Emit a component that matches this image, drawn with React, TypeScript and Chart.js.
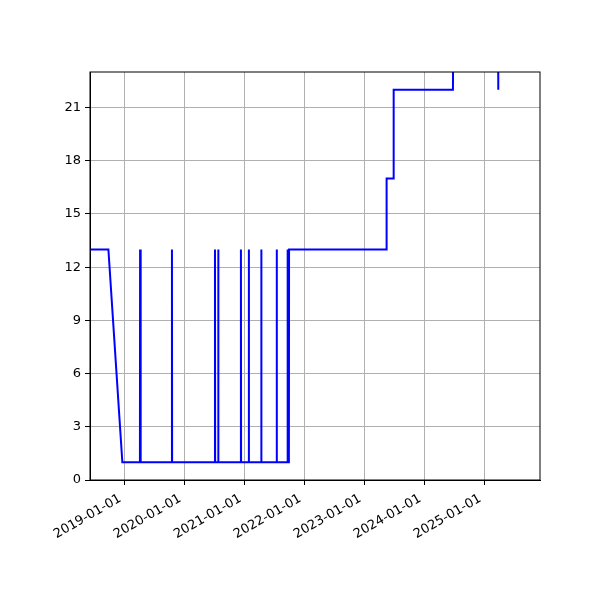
import { Chart, registerables, type ChartConfiguration, type Plugin } from 'chart.js';
import { useEffect, useRef } from 'react';

Chart.register(...registerables);

// sample dates and values
const DATES = [
  '2018-06-01', '2018-09-26', '2018-12-20',
  '2019-04-06', '2019-04-07', '2019-04-10', '2019-04-11',
  '2019-10-17', '2019-10-18', '2019-10-19',
  '2020-07-05', '2020-07-06', '2020-07-07',
  '2020-07-25', '2020-07-26', '2020-07-27',
  '2020-12-10', '2020-12-11', '2020-12-12',
  '2021-01-27', '2021-01-28', '2021-01-29',
  '2021-04-13', '2021-04-14', '2021-04-15',
  '2021-07-16', '2021-07-17', '2021-07-18',
  '2021-09-19', '2021-09-20', '2021-09-22', '2021-09-23',
  '2021-09-29', '2021-09-30',
  '2023-05-16', '2023-05-17',
  '2023-06-28', '2023-06-29',
  '2024-06-24', '2024-06-25',
  '2025-03-26', '2025-03-27',
];
const VALUES = [
  13, 13, 1,
  1, 13, 13, 1,
  1, 13, 1,
  1, 13, 1,
  1, 13, 1,
  1, 13, 1,
  1, 13, 1,
  1, 13, 1,
  1, 13, 1,
  1, 13, 13, 1,
  1, 13,
  13, 17,
  17, 22,
  22, 25,
  25, 22,
];

const X_TICKS = ['2019-01-01', '2020-01-01', '2021-01-01', '2022-01-01', '2023-01-01', '2024-01-01', '2025-01-01'];
const Y_TICKS = [0, 3, 6, 9, 12, 15, 18, 21];
const X_MIN = '2018-06-06';
const X_MAX = '2025-12-06';
const Y_MAX = 23;

const font = { family: 'DejaVu Sans', size: 13 };

// matplotlib-like box around the plot area
const frame: Plugin = {
  id: 'frame',
  afterDraw(chart) {
    const { ctx, chartArea: a } = chart;
    ctx.save();
    ctx.strokeStyle = 'black';
    ctx.lineWidth = 1;
    ctx.strokeRect(a.left, a.top, a.right - a.left, a.bottom - a.top);
    ctx.restore();
  },
};

export default function App() {
  const canvasRef = useRef<HTMLCanvasElement>(null);

  useEffect(() => {
    document.body.style.margin = '0';
    if (!canvasRef.current) return;

    const config: ChartConfiguration<'line'> = {
      type: 'line',
      data: {
        datasets: [
          {
            data: DATES.map((d, i) => ({ x: Date.parse(d), y: VALUES[i] })),
            borderColor: '#0000ff',
            borderWidth: 2,
            pointRadius: 0,
            tension: 0,
            fill: false,
          },
        ],
      },
      options: {
        animation: false,
        responsive: false,
        layout: { padding: { left: 0, right: 60, top: 72, bottom: 0 } },
        plugins: { legend: { display: false }, tooltip: { enabled: false } },
        scales: {
          x: {
            type: 'linear',
            min: Date.parse(X_MIN),
            max: Date.parse(X_MAX),
            afterBuildTicks: (scale) => {
              scale.ticks = X_TICKS.map((t) => ({ value: Date.parse(t) }));
            },
            afterFit: (scale) => {
              scale.height = 120;
            },
            ticks: {
              autoSkip: false,
              minRotation: 30,
              maxRotation: 30,
              color: 'black',
              font,
              padding: 6,
              labelOffset: -4,
              callback: (v) => new Date(Number(v)).toISOString().slice(0, 10),
            },
            grid: { color: '#b0b0b0', tickColor: 'black', tickLength: 5 },
            border: { color: 'black', width: 1 },
          },
          y: {
            min: 0,
            max: Y_MAX,
            afterBuildTicks: (scale) => {
              scale.ticks = Y_TICKS.map((v) => ({ value: v }));
            },
            afterFit: (scale) => {
              scale.width = 90;
            },
            ticks: { color: 'black', font, padding: 4 },
            grid: { color: '#b0b0b0', tickColor: 'black', tickLength: 5 },
            border: { color: 'black', width: 1 },
          },
        },
      },
      plugins: [frame],
    };

    const chart = new Chart(canvasRef.current, config);
    return () => chart.destroy();
  }, []);

  return <canvas ref={canvasRef} width={600} height={600} />;
}
